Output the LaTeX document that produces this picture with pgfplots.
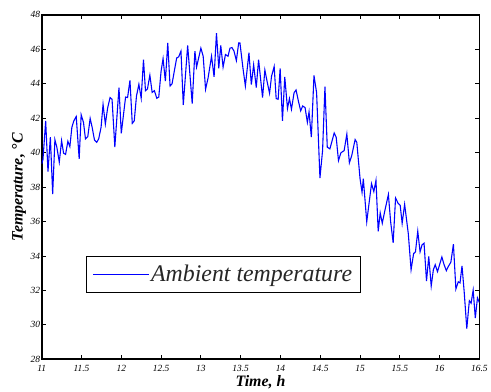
\documentclass[border=0pt]{standalone}
\usepackage{fontspec}
\setmainfont{Liberation Serif}
\usepackage{pgfplots}
\pgfplotsset{compat=1.18}

\begin{document}
\begin{tikzpicture}[x=1pt,y=1pt]
\begin{axis}[
  name=ax,
  scale only axis,
  width=441pt, height=347pt,
  xmin=11, xmax=16.5, ymin=28, ymax=48,
  xtick={11,11.5,12,12.5,13,13.5,14,14.5,15,15.5,16,16.5},
  ytick={28,30,32,34,36,38,40,42,44,46,48},
  tick align=inside,
  major tick length=4pt,
  axis line style={line width=1.8pt},
  every tick/.style={black, line width=0.8pt},
  /pgf/number format/assume math mode=true,
  ticklabel style={font=\fontsize{9.5}{10}\selectfont\itshape},
  xticklabel style={yshift=-2pt},
  yticklabel style={xshift=2pt},
  xlabel={\textbf{\textit{Time, h}}},
  ylabel={\textbf{\textit{Temperature, °C}}},
  label style={font=\fontsize{16}{18}\selectfont},
  xlabel style={yshift=3pt},
  ylabel style={yshift=-2pt},
  legend style={
    at={(0.102,0.2997)}, anchor=north west,
    draw=black, line width=0.8pt,
    font=\fontsize{24}{27}\selectfont,
    text=black!85,
    inner xsep=6pt, inner ysep=7pt,
    fill=white,
  },
  legend image code/.code={\draw[#1, line width=0.9pt] (0pt,0pt) -- (56pt,0pt);},
  legend cell align=left,
]
\addplot[blue, line width=1.1pt] table {
x y
11.000 39.35
11.016 39.60
11.050 41.85
11.079 38.90
11.109 40.90
11.138 37.60
11.166 40.75
11.191 40.30
11.221 39.45
11.250 40.70
11.275 39.97
11.300 39.90
11.329 40.66
11.354 40.35
11.379 41.47
11.404 41.85
11.434 42.10
11.471 39.64
11.496 42.20
11.525 41.76
11.550 40.80
11.579 40.93
11.609 41.99
11.634 41.47
11.663 40.74
11.691 40.60
11.716 40.80
11.746 41.47
11.771 42.80
11.800 41.66
11.829 42.60
11.859 43.20
11.884 43.10
11.919 40.33
11.971 43.78
12.000 41.12
12.054 43.23
12.079 43.20
12.109 44.20
12.138 41.70
12.163 41.85
12.191 43.29
12.221 43.97
12.250 43.16
12.279 45.40
12.304 43.60
12.329 43.70
12.359 44.50
12.388 43.50
12.416 43.60
12.446 43.16
12.471 43.23
12.500 44.73
12.525 45.46
12.554 44.15
12.584 46.37
12.613 43.87
12.638 44.00
12.666 44.73
12.696 45.50
12.721 45.56
12.750 45.90
12.779 42.77
12.834 46.23
12.891 42.85
12.925 45.90
12.946 44.97
13.000 46.07
13.029 45.60
13.059 43.68
13.091 44.35
13.134 45.60
13.166 44.40
13.196 46.94
13.225 44.90
13.250 46.23
13.279 44.97
13.309 45.70
13.341 45.60
13.366 46.07
13.391 46.10
13.416 45.90
13.446 45.35
13.475 46.37
13.491 46.37
13.529 44.90
13.559 43.87
13.604 45.80
13.634 43.95
13.663 45.10
13.696 43.78
13.725 45.40
13.775 43.20
13.804 44.80
13.829 44.20
13.863 43.45
13.888 44.44
13.921 45.00
13.946 43.14
13.971 43.10
13.996 44.89
14.025 41.85
14.054 44.40
14.088 42.57
14.113 43.14
14.138 42.52
14.171 43.48
14.196 43.64
14.225 43.00
14.254 42.43
14.279 42.71
14.309 42.62
14.338 41.76
14.359 42.37
14.388 40.90
14.421 44.48
14.454 43.48
14.496 38.53
14.529 40.12
14.559 43.83
14.588 40.32
14.621 40.22
14.675 41.14
14.700 40.90
14.729 39.54
14.759 39.99
14.800 40.12
14.834 41.08
14.866 39.41
14.896 39.84
14.938 40.76
14.959 40.60
15.000 38.49
15.025 37.70
15.041 38.49
15.084 35.99
15.144 38.20
15.173 37.74
15.200 38.39
15.228 35.43
15.253 36.50
15.279 35.90
15.310 36.60
15.356 37.57
15.384 36.00
15.416 34.77
15.446 37.37
15.479 37.05
15.504 36.95
15.529 35.90
15.560 37.00
15.606 35.30
15.641 33.20
15.673 34.14
15.696 34.24
15.725 35.44
15.754 34.24
15.779 34.65
15.804 34.74
15.835 32.55
15.863 33.98
15.894 32.25
15.921 33.20
15.944 33.49
15.973 33.09
16.028 33.94
16.055 33.51
16.084 33.15
16.110 33.40
16.141 33.64
16.173 34.69
16.204 32.08
16.234 32.50
16.256 32.44
16.281 33.43
16.309 31.88
16.341 29.78
16.373 31.40
16.395 31.26
16.421 32.02
16.448 30.40
16.475 31.57
16.500 31.29
};
\addlegendentry{\textit{Ambient temperature}}
\end{axis}
% page frame around the axis
\path (ax.south west) ++(-42pt,-32pt) coordinate (pa);
\path (ax.north east) ++(8pt,15pt) coordinate (pb);
\path (pa) rectangle (pb);
\end{tikzpicture}
\end{document}
